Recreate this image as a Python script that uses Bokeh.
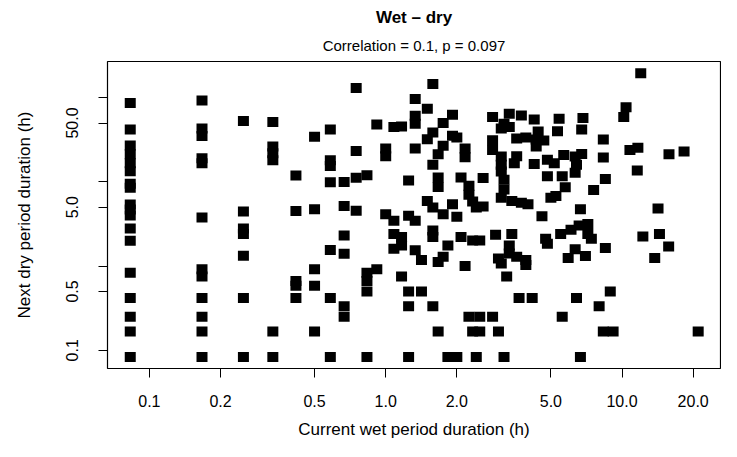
from bokeh.plotting import figure
from bokeh.models import Range1d, FixedTicker, Title, ColumnDataSource
from bokeh.embed import file_html
from bokeh.resources import INLINE

# ---- data (hours) ----
wet_h = (
    [0.083] * 18
    + [0.167] * 12
    + [0.25] * 7
    + [0.333] * 6
    + [0.417] * 5
    + [0.5] * 5
    + [0.583] * 7
    + [0.667] * 6
    + [0.75] * 4
    + [0.833] * 5
    + [0.917] * 2
    + [1.583, 1.333, 1.5, 1.083, 1.167, 1.333, 1.333, 1.917, 1.75, 1.583,
       1.5, 1.917, 2.0, 1.75, 1.667, 1.0, 1.0, 1.333, 2.167, 2.167,
       1.583, 1.25, 1.667, 1.667, 2.083, 2.583, 2.25, 2.25, 2.333, 2.417,
       2.583, 1.5, 1.583, 1.75, 1.917, 2.0, 2.833]
    + [3.333, 3.75, 4.25, 5.417, 3.167, 3.083, 3.333, 2.833, 2.833, 3.083,
       3.083, 3.083, 3.167, 3.167, 3.083, 3.417, 3.75, 4.0, 3.583, 3.917,
       4.417, 4.333, 4.667, 4.333, 5.333, 3.583, 3.5, 4.25, 4.833, 5.167,
       5.667, 4.833, 5.583, 5.0, 5.25, 4.583]
    + [6.75, 6.833, 8.333, 6.75, 6.333, 6.417, 6.333, 8.333, 5.75, 7.583,
       8.5, 6.667]
    + [2.917, 3.417, 3.333, 4.75, 4.833, 5.5, 6.083, 6.583, 7.167, 7.167,
       7.417, 8.5, 6.333, 5.917, 7.0, 3.0, 3.333, 3.583, 3.917, 3.917,
       3.083, 3.25, 3.667, 4.167, 6.417, 8.917, 8.0, 5.583, 3.0, 8.333,
       9.167, 3.167, 6.667]
    + [1.0, 1.083, 1.25, 1.333, 1.083, 1.167, 1.167, 1.083, 1.583, 1.583,
       1.333, 1.417, 1.833, 1.75, 1.667, 2.083, 2.333, 2.5, 2.167, 1.167,
       1.25, 1.417, 1.25, 1.583, 2.25, 2.5, 2.833, 1.667, 2.333, 2.5,
       1.25, 1.833, 2.0, 2.417]
    + [12.0, 10.4, 10.17, 10.8, 11.67, 15.8, 18.3, 11.6, 14.2, 12.25,
       14.4, 15.75, 13.75, 21.0]
)

dry_h = (
    [86.7, 41.8, 27.1, 21.3, 16.7, 13.4, 9.5, 8.5, 5.4, 4.7,
     4.0, 2.8, 2.0, 0.833, 0.417, 0.25, 0.167, 0.083]
    + [92.3, 43.0, 35.0, 19.1, 16.7, 3.78, 0.917, 0.75, 0.417, 0.25, 0.167, 0.083]
    + [52.8, 4.45, 2.8, 2.4, 1.33, 0.417, 0.083]
    + [51.5, 26.3, 21.9, 18.1, 0.167, 0.083]
    + [11.9, 4.5, 0.667, 0.583, 0.417]
    + [34.3, 4.73, 0.917, 0.583, 0.167]
    + [41.8, 18.1, 15.4, 9.9, 1.55, 0.417, 0.083]
    + [10.0, 5.18, 2.31, 1.40, 0.333, 0.25]
    + [130.0, 23.3, 11.2, 4.53]
    + [12.0, 0.833, 0.667, 0.5, 0.083]
    + [48.0, 0.917]
    + [145.0, 96.6, 73.8, 45.0, 45.6, 61.0, 49.2, 62.7, 50.1, 38.6,
       32.2, 35.3, 33.7, 26.9, 21.3, 25.0, 20.2, 25.0, 25.0, 19.6,
       16.0, 10.4, 11.3, 8.7, 11.3, 11.1, 8.98, 7.04, 5.83, 4.96,
       5.1, 5.94, 4.96, 4.14, 5.42, 3.85, 58.9]
    + [64.4, 61.5, 55.2, 56.3, 49.2, 43.0, 45.0, 31.3, 23.9, 20.0,
       16.0, 13.3, 10.6, 8.12, 6.49, 5.94, 5.67, 5.42, 32.8, 33.7,
       39.6, 31.9, 31.1, 26.4, 40.0, 20.2, 16.7, 16.3, 18.3, 16.7,
       20.9, 11.7, 11.7, 6.49, 6.8, 3.9]
    + [41.8, 57.3, 31.9, 21.5, 20.0, 16.0, 12.8, 19.5, 8.66, 8.0,
       10.8, 4.73]
    + [2.35, 2.41, 1.76, 2.11, 1.84, 2.41, 2.71, 3.03, 3.16, 2.41,
       2.11, 1.64, 1.58, 1.25, 1.32, 1.23, 1.41, 1.29, 1.18, 1.03,
       1.07, 0.75, 0.417, 0.417, 0.417, 0.5, 0.333, 0.25, 0.167, 0.167,
       0.167, 0.083, 0.083]
    + [4.14, 3.46, 3.96, 3.46, 2.41, 2.21, 1.76, 1.61, 2.64, 2.21,
       1.54, 1.18, 1.76, 1.29, 1.12, 2.21, 2.02, 2.02, 1.0, 0.75,
       0.5, 0.5, 0.333, 0.333, 0.25, 0.25, 0.25, 0.167, 0.167, 0.167,
       0.083, 0.083, 0.083, 0.083]
    + [195.0, 77.2, 58.9, 23.9, 25.5, 21.3, 22.9, 13.7, 4.82, 2.25,
       2.41, 1.71, 1.25, 0.167]
)

x_ticks = [0.1, 0.2, 0.5, 1, 2, 5, 10, 20]
x_tick_labels = ["0.1", "0.2", "0.5", "1.0", "2.0", "5.0", "10.0", "20.0"]
y_ticks = [0.1, 0.5, 1, 5, 10, 50, 100]
y_tick_labels = ["0.1", "0.5", "", "5.0", "", "50.0", ""]

title_text = "Wet \u2013 dry"
subtitle_text = "Correlation = 0.1, p = 0.097"
x_label = "Current wet period duration (h)"
y_label = "Next dry period duration (h)"

FONT = "Liberation Sans"

src = ColumnDataSource(data=dict(x=wet_h, y=dry_h))

p = figure(width=721, height=441, x_axis_type="log", y_axis_type="log",
           x_range=Range1d(0.0665, 26.1), y_range=Range1d(0.0608, 269),
           output_backend="svg", toolbar_location=None,
           min_border_left=107, min_border_right=1,
           min_border_top=61, min_border_bottom=72,
           background_fill_color="white", border_fill_color="white")

p.rect(x="x", y="y", width=11, height=10, width_units="screen",
       height_units="screen", fill_color="black", line_color=None, source=src)

p.xgrid.visible = False
p.ygrid.visible = False
p.outline_line_color = "black"
p.outline_line_width = 1.2

p.xaxis.ticker = FixedTicker(ticks=x_ticks, minor_ticks=[])
p.xaxis.major_label_overrides = dict(zip(x_ticks, x_tick_labels))
p.yaxis.ticker = FixedTicker(ticks=y_ticks, minor_ticks=[])
p.yaxis.major_label_overrides = dict(zip(y_ticks, y_tick_labels))
p.yaxis.major_label_orientation = "vertical"

for ax in (p.xaxis, p.yaxis):
    ax.axis_line_color = None
    ax.major_tick_line_color = "black"
    ax.major_tick_line_width = 1
    ax.major_tick_out = 9
    ax.major_tick_in = 0
    ax.minor_tick_line_color = None
    ax.major_label_text_font = FONT
    ax.major_label_text_font_size = "16px"
    ax.major_label_text_color = "black"
    ax.axis_label_text_font = FONT
    ax.axis_label_text_font_size = "17px"
    ax.axis_label_text_font_style = "normal"
    ax.axis_label_text_color = "black"

p.xaxis.axis_label = x_label
p.yaxis.axis_label = y_label
p.xaxis.major_label_standoff = 17
p.xaxis.axis_label_standoff = 10
p.yaxis.major_label_standoff = 20
p.yaxis.axis_label_standoff = 30

p.title.text = title_text
p.title.align = "center"
p.title.text_font = FONT
p.title.text_font_size = "17px"
p.title.text_font_style = "bold"
p.title.text_color = "black"
p.title.standoff = 0

p.add_layout(Title(text=subtitle_text, align="center", text_font=FONT,
                   text_font_size="15px", text_font_style="normal",
                   text_color="black", standoff=16), "above")

open("out.html", "w").write(file_html(p, INLINE, title="Wet - dry"))
